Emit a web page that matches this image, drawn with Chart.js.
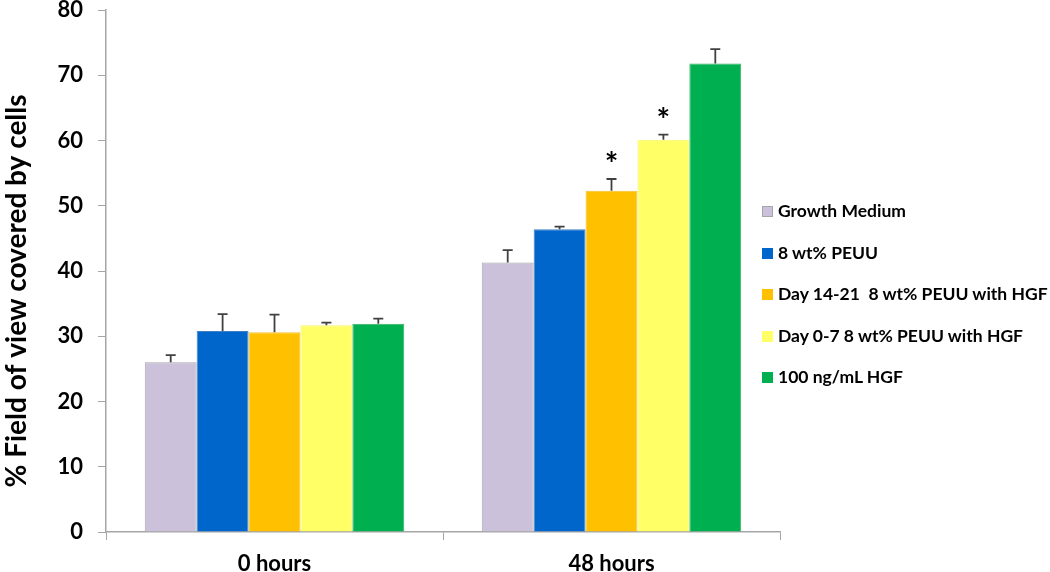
<!DOCTYPE html>
<html>
<head>
<meta charset="utf-8">
<script src="https://cdn.jsdelivr.net/npm/chart.js@4/dist/chart.umd.min.js"></script>
<style>
  html, body { margin: 0; padding: 0; background: #fff; }
  #wrap { position: relative; width: 1050px; height: 572px; }
  #legend { position: absolute; left: 760px; top: 200px; font-family: Lato, "Open Sans", sans-serif; font-weight: bold; font-size: 17.5px; color: #000; }
  #legend div { height: 41.6px; display: flex; align-items: flex-start; white-space: pre; }
  #legend span.box { display: inline-block; width: 11px; height: 11px; margin: 6px 5px 0 2px; box-sizing: border-box; }
</style>
</head>
<body>
<div id="wrap">
  <canvas id="chart" width="1050" height="572"></canvas>
  <div id="legend"></div>
</div>
<script>
// ------------------------------------
// DATA
// ------------------------------------
const categories = ["0 hours", "48 hours"];

const seriesNames = [
    "Growth Medium",
    "8 wt% PEUU",
    "Day 14-21  8 wt% PEUU with HGF",
    "Day 0-7 8 wt% PEUU with HGF",
    "100 ng/mL HGF"
];

const growthMedium = [26.0, 41.3];
const peuu = [30.8, 46.4];
const day1421 = [30.6, 52.3];
const day07 = [31.7, 60.1];
const hgf100 = [31.9, 71.8];

const growthMediumErr = [1.1, 1.9];
const peuuErr = [2.6, 0.4];
const day1421Err = [2.7, 1.8];
const day07Err = [0.4, 0.8];
const hgf100Err = [0.8, 2.2];

// significance marks above bars
const day1421Star = ["", "*"];
const day07Star = ["", "*"];

const yTicks = [0, 10, 20, 30, 40, 50, 60, 70, 80];
const yTitle = "% Field of view covered by cells";

// ------------------------------------
// STYLE
// ------------------------------------
const colors = ["#ccc1da", "#0066cc", "#ffc000", "#ffff66", "#00b050"];
const borders = ["#a6a6a6", "#3c7fc6", "#f5c030", "#f5f570", "#30b060"];
const FONT = "Lato, 'Open Sans', sans-serif";

const values = [growthMedium, peuu, day1421, day07, hgf100];
const errors = [growthMediumErr, peuuErr, day1421Err, day07Err, hgf100Err];
const stars = [null, null, day1421Star, day07Star, null];

// ------------------------------------
// ERROR BARS + STARS + Y TITLE PLUGIN
// ------------------------------------
const errorBarPlugin = {
    id: "errorBars",
    afterDatasetsDraw(chart) {
        const ctx = chart.ctx;
        const yScale = chart.scales.y;
        chart.data.datasets.forEach((ds, di) => {
            const meta = chart.getDatasetMeta(di);
            meta.data.forEach((bar, i) => {
                const top = yScale.getPixelForValue(ds.data[i] + ds.errors[i]);
                ctx.save();
                ctx.strokeStyle = "#404040";
                ctx.lineWidth = 1.8;
                ctx.beginPath();
                ctx.moveTo(bar.x, bar.y);
                ctx.lineTo(bar.x, top);
                ctx.moveTo(bar.x - 5, top);
                ctx.lineTo(bar.x + 5, top);
                ctx.stroke();
                if (ds.stars && ds.stars[i]) {
                    ctx.fillStyle = "#000";
                    ctx.font = "bold 32px " + FONT;
                    ctx.textAlign = "center";
                    ctx.textBaseline = "alphabetic";
                    ctx.fillText(ds.stars[i], bar.x, top - 3);
                }
                ctx.restore();
            });
        });
    },
    afterDraw(chart) {
        // axis title sits a little below the middle of the plot, as in the figure
        const ctx = chart.ctx;
        ctx.save();
        ctx.translate(17, 291);
        ctx.rotate(-Math.PI / 2);
        ctx.fillStyle = "#000";
        ctx.font = "bold 28px " + FONT;
        ctx.textAlign = "center";
        ctx.textBaseline = "middle";
        ctx.fillText(yTitle, 0, 0);
        ctx.restore();
    }
};

// ------------------------------------
// CHART
// ------------------------------------
const ctx = document.getElementById("chart").getContext("2d");

const chart = new Chart(ctx, {
    type: "bar",
    data: {
        labels: categories,
        datasets: seriesNames.map((name, k) => ({
            label: name,
            data: values[k],
            errors: errors[k],
            stars: stars[k],
            backgroundColor: colors[k],
            borderColor: borders[k],
            borderWidth: 1,
            categoryPercentage: 0.77,
            barPercentage: 1.0
        }))
    },
    options: {
        responsive: false,
        animation: false,
        layout: { padding: { left: 0, right: 270, top: 10, bottom: 0 } },
        plugins: {
            legend: { display: false },
            tooltip: { enabled: false }
        },
        scales: {
            x: {
                afterFit: s => { s.height = 40; },
                grid: { drawOnChartArea: false, drawTicks: true, tickLength: 8, color: "#a6a6a6", offset: true },
                border: { color: "#a6a6a6", width: 1.5 },
                ticks: { color: "#000", font: { family: FONT, size: 22, weight: "bold" }, padding: 11 }
            },
            y: {
                min: 0,
                max: 80,
                afterFit: s => { s.width = 106; s.paddingTop = 0; s.paddingBottom = 0; },
                afterBuildTicks: s => { s.ticks = yTicks.map(v => ({ value: v })); },
                grid: { drawOnChartArea: false, drawTicks: true, tickLength: 8, color: "#a6a6a6" },
                border: { color: "#a6a6a6", width: 1.5 },
                ticks: { color: "#000", font: { family: FONT, size: 22, weight: "bold" }, padding: 15 }
            }
        }
    },
    plugins: [errorBarPlugin]
});

// ------------------------------------
// HTML LEGEND built from the datasets
// ------------------------------------
const legendEl = document.getElementById("legend");
chart.data.datasets.forEach(ds => {
    const row = document.createElement("div");
    const box = document.createElement("span");
    box.className = "box";
    box.style.background = ds.backgroundColor;
    if (ds.label === "Growth Medium") box.style.border = "1.5px solid #a6a6a6";
    row.appendChild(box);
    row.appendChild(document.createTextNode(ds.label));
    legendEl.appendChild(row);
});
</script>
</body>
</html>
